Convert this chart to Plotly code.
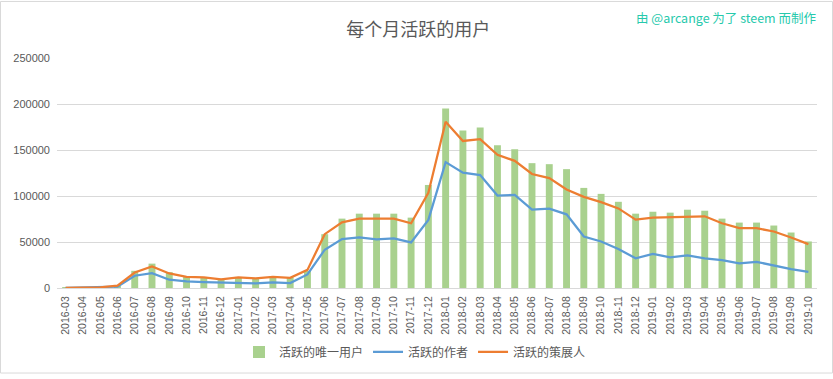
import plotly.graph_objects as go

months = ["2016-03","2016-04","2016-05","2016-06","2016-07","2016-08","2016-09","2016-10","2016-11","2016-12",
          "2017-01","2017-02","2017-03","2017-04","2017-05","2017-06","2017-07","2017-08","2017-09","2017-10",
          "2017-11","2017-12","2018-01","2018-02","2018-03","2018-04","2018-05","2018-06","2018-07","2018-08",
          "2018-09","2018-10","2018-11","2018-12","2019-01","2019-02","2019-03","2019-04","2019-05","2019-06",
          "2019-07","2019-08","2019-09","2019-10"]

unique_users = [200, 600, 900, 2200, 18700, 26500, 17200, 12500, 12000, 10000,
                12000, 11000, 13000, 11500, 18500, 58500, 75400, 80800, 80800, 80800,
                76500, 112000, 195000, 171200, 174500, 155100, 150800, 135700, 134600, 129200,
                108800, 102300, 93700, 80800, 82900, 81900, 85100, 84000, 75400, 71100,
                71100, 67900, 60300, 50600]

authors = [100, 400, 600, 1500, 13300, 16100, 9000, 7200, 6500, 6000,
           6000, 5000, 6000, 5400, 14700, 41600, 53100, 54900, 52800, 53900,
           49500, 74000, 136800, 125300, 122800, 100500, 101200, 85100, 86200, 80100,
           56000, 50600, 42400, 32300, 37000, 33400, 35500, 32300, 30200, 26900,
           28400, 24400, 20500, 17600]

curators = [150, 500, 800, 2600, 16800, 23300, 15800, 12000, 11500, 9500,
            11500, 10500, 12000, 11100, 19700, 58500, 71400, 75400, 75400, 75400,
            70400, 103400, 180600, 159800, 161900, 144700, 138200, 123900, 119500, 107000,
            99100, 93300, 86500, 74300, 76500, 76800, 77900, 77900, 70400, 65000,
            65000, 61400, 54900, 47700]

y_ticks = [0, 50000, 100000, 150000, 200000, 250000]

TXT = "#595959"
FONT = "Liberation Sans, Noto Sans CJK SC, sans-serif"
CJK = "Noto Sans CJK SC, sans-serif"

fig = go.Figure()
fig.add_trace(go.Bar(x=months, y=unique_users, name="活跃的唯一用户",
                     marker=dict(color="#A9D18E", line=dict(width=0))))
fig.add_trace(go.Scatter(x=months, y=authors, name="活跃的作者", mode="lines",
                         line=dict(color="#5B9BD5", width=2.25)))
fig.add_trace(go.Scatter(x=months, y=curators, name="活跃的策展人", mode="lines",
                         line=dict(color="#ED7D31", width=2.25)))

PH = 379 - 58 - 87  # plot height in px
PW = 833 - 57 - 16

fig.update_layout(
    width=833, height=379,
    margin=dict(l=57, r=16, t=58, b=87),
    paper_bgcolor="white", plot_bgcolor="white",
    font=dict(family=FONT, size=12, color=TXT),
    bargap=0.6,
    showlegend=True,
    legend=dict(orientation="h", x=0.5 - 22/PW, xanchor="center", y=-(357-292)/PH, yanchor="middle",
                font=dict(family=CJK, size=12, color=TXT), itemwidth=30,
                traceorder="normal"),
    title=dict(text="每个月活跃的用户", x=0.502, xanchor="center", y=1 - 30/379,
               yanchor="middle", yref="container",
               font=dict(family=CJK, size=18, color=TXT)),
    xaxis=dict(type="category", tickangle=-90, showgrid=False, showline=True,
               linecolor="#D9D9D9", linewidth=1, ticks="", automargin=False,
               ticklabelstandoff=3,
               tickfont=dict(size=10.5, color=TXT, family=FONT)),
    yaxis=dict(range=[0, 250000], tickvals=y_ticks, ticktext=[str(v) for v in y_ticks],
               showgrid=True, gridcolor="#D9D9D9", gridwidth=1, zeroline=False,
               showline=False, ticks="", automargin=False, ticklabelstandoff=6,
               tickfont=dict(size=11, color=TXT, family=FONT)),
    annotations=[dict(text="由 @arcange 为了 steem 而制作", xref="paper", yref="paper",
                      x=(818-57)/PW, xanchor="right", y=(292-17)/PH, yanchor="middle",
                      showarrow=False, font=dict(family=CJK, size=12.5, color="#26C9AC"))],
    shapes=[dict(type="rect", xref="paper", yref="paper",
                 x0=-56.5/PW, x1=1 + 15.5/PW, y0=-86.5/PH, y1=1 + 57.5/PH,
                 line=dict(color="#D9D9D9", width=1), fillcolor="rgba(0,0,0,0)", layer="below")],
)

fig.write_html("out.html",
               config={"displayModeBar": False},
               post_script="document.body.style.margin='0';document.body.style.padding='0';"
                           "document.body.style.overflow='hidden';")
